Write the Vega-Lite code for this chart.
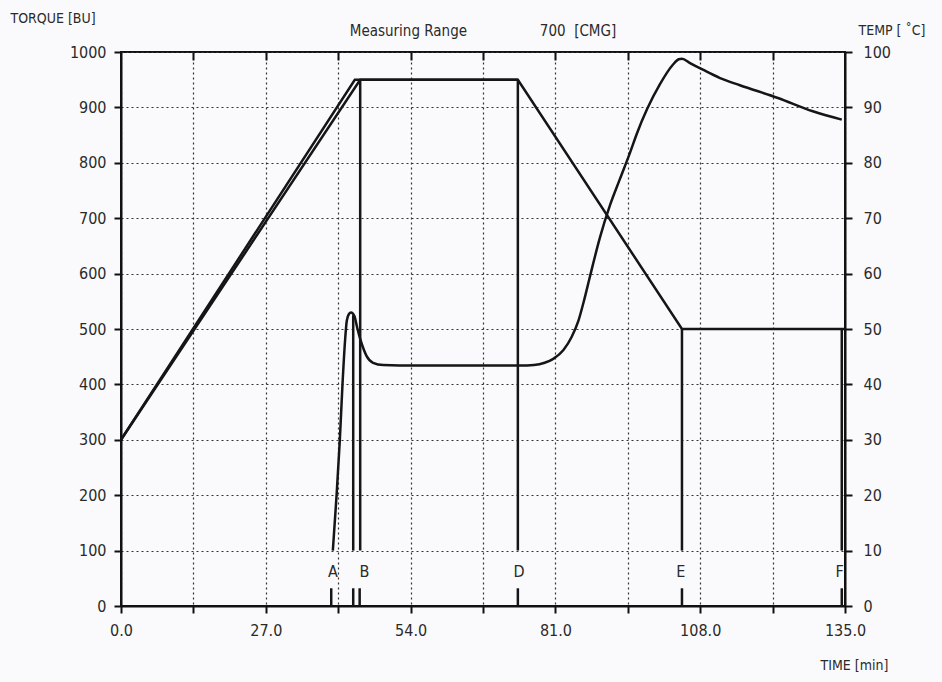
{
  "$schema": "https://vega.github.io/schema/vega-lite/v6.json",
  "width": 724,
  "height": 554,
  "autosize": {"type": "none"},
  "padding": {"left": 121, "top": 52, "right": 97, "bottom": 76},
  "background": "#fafafc",
  "title": {"text": "Measuring Range\u00a0\u00a0\u00a0\u00a0\u00a0\u00a0\u00a0\u00a0\u00a0\u00a0\u00a0\u00a0\u00a0\u00a0\u00a0\u00a0\u00a0700\u00a0\u00a0[CMG]", "anchor": "middle", "offset": -28, "fontSize": 15, "fontWeight": "normal", "font": "DejaVu Sans Condensed, Liberation Sans, sans-serif", "color": "#2a2a2a"},
  "config": {
    "view": {"stroke": "#111", "strokeWidth": 2},
    "axis": {
      "labelFont": "DejaVu Sans Condensed, Liberation Sans, sans-serif",
      "titleFont": "DejaVu Sans Condensed, Liberation Sans, sans-serif",
      "labelFontSize": 16, "titleFontSize": 14, "titleFontWeight": "normal",
      "labelColor": "#2a2a2a", "titleColor": "#2a2a2a",
      "domainColor": "#111", "domainWidth": 2,
      "tickColor": "#111", "tickWidth": 2, "tickSize": 7,
      "gridColor": "#333", "gridDash": [2, 3], "gridWidth": 1.2, "gridOpacity": 1
    }
  },
  "datasets": {
    "visc": [
      {"t": 39.5, "bu": 100}, {"t": 40.2, "bu": 200}, {"t": 40.8, "bu": 299}, {"t": 41.3, "bu": 400},
      {"t": 41.8, "bu": 482}, {"t": 42.1, "bu": 515}, {"t": 42.5, "bu": 527}, {"t": 42.9, "bu": 530},
      {"t": 43.5, "bu": 524}, {"t": 44.1, "bu": 500}, {"t": 44.6, "bu": 482}, {"t": 45.3, "bu": 462},
      {"t": 45.8, "bu": 451}, {"t": 47.0, "bu": 439}, {"t": 48.9, "bu": 435}, {"t": 55, "bu": 434},
      {"t": 65, "bu": 434}, {"t": 74.4, "bu": 434}, {"t": 77.0, "bu": 435}, {"t": 79.0, "bu": 439},
      {"t": 80.6, "bu": 446}, {"t": 82.5, "bu": 462}, {"t": 84.0, "bu": 485}, {"t": 85.3, "bu": 515},
      {"t": 86.3, "bu": 550}, {"t": 87.4, "bu": 593},
      {"t": 89.3, "bu": 665}, {"t": 91.2, "bu": 724}, {"t": 93.0, "bu": 770}, {"t": 94.9, "bu": 818},
      {"t": 96.2, "bu": 853}, {"t": 98.1, "bu": 897}, {"t": 100.5, "bu": 942}, {"t": 102.9, "bu": 977},
      {"t": 104.0, "bu": 987}, {"t": 104.6, "bu": 988}, {"t": 106.1, "bu": 980}, {"t": 108.5, "bu": 968},
      {"t": 111.7, "bu": 953}, {"t": 115.4, "bu": 940}, {"t": 122.5, "bu": 917}, {"t": 129.0, "bu": 893},
      {"t": 134.4, "bu": 878}
    ],
    "temp": [
      {"t": 0, "c": 30, "s": "a"}, {"t": 44.6, "c": 95, "s": "a"}, {"t": 74.0, "c": 95, "s": "a"},
      {"t": 104.6, "c": 50, "s": "a"}, {"t": 135, "c": 50, "s": "a"},
      {"t": 0, "c": 30, "s": "b"}, {"t": 43.6, "c": 95, "s": "b"}, {"t": 74.0, "c": 95, "s": "b"}
    ],
    "rules": [
      {"t": 43.3, "lo": 100, "hi": 525},
      {"t": 44.6, "lo": 100, "hi": 950},
      {"t": 74.0, "lo": 100, "hi": 950},
      {"t": 104.6, "lo": 100, "hi": 500},
      {"t": 134.4, "lo": 100, "hi": 500}
    ],
    "marks": [
      {"t": 39.2, "lo": 0, "hi": 32},
      {"t": 43.3, "lo": 0, "hi": 32},
      {"t": 44.5, "lo": 0, "hi": 32},
      {"t": 74.0, "lo": 0, "hi": 32},
      {"t": 104.6, "lo": 0, "hi": 32},
      {"t": 134.4, "lo": 0, "hi": 32}
    ],
    "labels": [
      {"t": 39.5, "bu": 61, "label": "A"},
      {"t": 45.4, "bu": 61, "label": "B"},
      {"t": 74.2, "bu": 61, "label": "D"},
      {"t": 104.4, "bu": 61, "label": "E"},
      {"t": 134.0, "bu": 61, "label": "F"}
    ]
  },
  "layer": [
    {
      "layer": [
        {
          "data": {"name": "visc"},
          "mark": {"type": "line", "color": "#151515", "strokeWidth": 2.5, "interpolate": "monotone"},
          "encoding": {
            "x": {"field": "t", "type": "quantitative", "scale": {"domain": [0, 135], "nice": false, "zero": false},
              "axis": {"values": [0, 13.5, 27, 40.5, 54, 67.5, 81, 94.5, 108, 121.5, 135],
                "labelExpr": "datum.value % 27 == 0 ? format(datum.value, '.1f') : ''",
                "grid": true, "labelPadding": 9, "labelFlush": false,
                "title": "TIME [min]", "titleX": 733, "titleY": 59, "titleAlign": "center", "titleBaseline": "middle"}},
            "y": {"field": "bu", "type": "quantitative", "scale": {"domain": [0, 1000], "nice": false},
              "axis": {"values": [0, 100, 200, 300, 400, 500, 600, 700, 800, 900, 1000], "grid": true, "format": "d",
                "labelPadding": 8, "title": "TORQUE [BU]", "titleAngle": 0, "titleX": -111, "titleY": -34,
                "titleAlign": "left", "titleBaseline": "middle"}}
          }
        },
        {
          "data": {"name": "rules"},
          "mark": {"type": "rule", "color": "#151515", "strokeWidth": 2.5},
          "encoding": {
            "x": {"field": "t", "type": "quantitative"},
            "y": {"field": "lo", "type": "quantitative", "title": "TORQUE [BU]"},
            "y2": {"field": "hi"}
          }
        },
        {
          "data": {"name": "marks"},
          "mark": {"type": "rule", "color": "#151515", "strokeWidth": 2.5},
          "encoding": {
            "x": {"field": "t", "type": "quantitative"},
            "y": {"field": "lo", "type": "quantitative", "title": "TORQUE [BU]"},
            "y2": {"field": "hi"}
          }
        },
        {
          "data": {"name": "labels"},
          "mark": {"type": "text", "font": "DejaVu Sans Condensed, Liberation Sans, sans-serif", "fontSize": 16, "color": "#2a2a2a", "baseline": "middle"},
          "encoding": {
            "x": {"field": "t", "type": "quantitative"},
            "y": {"field": "bu", "type": "quantitative", "title": "TORQUE [BU]"},
            "text": {"field": "label"}
          }
        }
      ]
    },
    {
      "data": {"name": "temp"},
      "mark": {"type": "line", "color": "#151515", "strokeWidth": 2.5},
      "encoding": {
        "x": {"field": "t", "type": "quantitative",
          "axis": {"orient": "bottom", "offset": -554, "values": [13.5, 27, 40.5, 54, 67.5, 81, 94.5, 108, 121.5],
            "labels": false, "domain": false, "grid": false, "ticks": true, "tickSize": 8, "title": null}},
        "y": {"field": "c", "type": "quantitative", "scale": {"domain": [0, 100], "nice": false},
          "axis": {"orient": "right", "values": [0, 10, 20, 30, 40, 50, 60, 70, 80, 90, 100], "grid": false,
            "labelPadding": 11, "title": "TEMP  [ \u02daC]", "titleAngle": 0, "titleX": 13, "titleY": -22,
            "titleAlign": "left", "titleBaseline": "middle"}},
        "detail": {"field": "s"}
      }
    }
  ],
  "resolve": {"scale": {"y": "independent"}, "axis": {"x": "independent", "y": "independent"}}
}
